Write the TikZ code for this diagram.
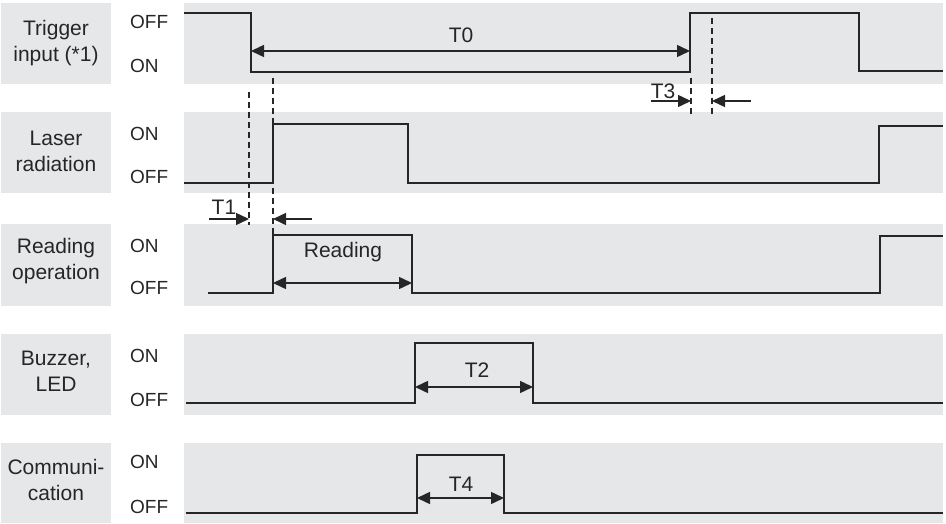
\documentclass[tikz,border=0pt]{standalone}
\usepackage{fontspec}
\setmainfont{Liberation Sans}
\usetikzlibrary{arrows.meta}
\definecolor{bandgray}{HTML}{E6E7E8}
\definecolor{inkgray}{HTML}{262626}
\begin{document}
\begin{tikzpicture}[x=1pt,y=-1pt,
  band/.style={fill=bandgray,draw=none},
  sig/.style={line width=1.8pt,draw=inkgray,line join=miter},
  rowlbl/.style={font=\fontsize{21}{26}\selectfont,align=center,text=inkgray,inner sep=0pt},
  lvl/.style={font=\fontsize{19}{20}\selectfont,anchor=west,inner sep=0pt,text=inkgray},
  tm/.style={font=\fontsize{21}{22}\selectfont,inner sep=0pt,text=inkgray},
  dimline/.style={line width=1.5pt,draw=inkgray},
  tipboth/.style={dimline,{Triangle[length=13pt,width=12pt]}-{Triangle[length=13pt,width=12pt]}},
  tipend/.style={dimline,-{Triangle[length=13pt,width=12pt]}},
  guide/.style={line width=1.4pt,dash pattern=on 6pt off 4pt,draw=inkgray}]
\useasboundingbox (0,0) rectangle (946,524);
% label boxes
\fill[band] (1,3) rectangle (111,84);
\fill[band] (1,112) rectangle (111,193);
\fill[band] (1,224) rectangle (111,306);
\fill[band] (1,334) rectangle (111,415);
\fill[band] (1,443) rectangle (111,523);
% signal bands
\fill[band] (184,3) rectangle (943,84);
\fill[band] (184,112) rectangle (943,193);
\fill[band] (184,224) rectangle (943,306);
\fill[band] (184,334) rectangle (943,415);
\fill[band] (184,443) rectangle (943,523);
% row labels
\node[rowlbl] (lTrig) at (56,43) {Trigger\\input (*1)};
\node[rowlbl] (lLaser) at (56,151) {Laser\\radiation};
\node[rowlbl] (lRead) at (56,261) {Reading\\operation};
\node[rowlbl] (lBuzz) at (56,371) {Buzzer,\\LED};
\node[rowlbl] (lComm) at (56,480) {Communi-\\cation};
% level labels
\node[lvl] (tOff) at (130,22) {OFF};
\node[lvl] (tOn) at (130,66) {ON};
\node[lvl] (laOn) at (130,134) {ON};
\node[lvl] (laOff) at (130,177) {OFF};
\node[lvl] (rOn) at (130,246) {ON};
\node[lvl] (rOff) at (130,288) {OFF};
\node[lvl] (bOn) at (130,356) {ON};
\node[lvl] (bOff) at (130,400) {OFF};
\node[lvl] (cOn) at (130,462) {ON};
\node[lvl] (cOff) at (130,507) {OFF};
% signals
\draw[sig] (184,13) -- (251,13) -- (251,72) -- (690,72) -- (690,13) -- (859,13) -- (859,71) -- (943,71);
\draw[sig] (184,183) -- (273,183) -- (273,124) -- (408,124) -- (408,183) -- (879,183) -- (879,126) -- (943,126);
\draw[sig] (208,293) -- (273,293) -- (273,235) -- (412,235) -- (412,293) -- (880,293) -- (880,236) -- (943,236);
\draw[sig] (186,403) -- (415,403) -- (415,343) -- (533,343) -- (533,403) -- (943,403);
\draw[sig] (186,513) -- (417,513) -- (417,455) -- (504,455) -- (504,513) -- (943,513);
% guide lines
\coordinate (g1a) at (249,92); \coordinate (g1b) at (249,225);
\coordinate (g2a) at (273,78); \coordinate (g2b) at (273,235);
\coordinate (g3a) at (691,78); \coordinate (g3b) at (691,117);
\coordinate (g4a) at (712,18); \coordinate (g4b) at (712,117);
\draw[guide] (g1a) -- (g1b);
\draw[guide] (g2a) -- (g2b);
\draw[guide] (g3a) -- (g3b);
\draw[guide] (g4a) -- (g4b);
% T0
\coordinate (t0a) at (251,51); \coordinate (t0b) at (690,51);
\draw[tipboth] (t0a) -- (t0b);
\node[tm] (lT0) at (461,35) {T0};
% T3
\coordinate (t3l) at (651,101); \coordinate (t3la) at (691,101);
\coordinate (t3r) at (751,101); \coordinate (t3ra) at (712,101);
\draw[tipend] (t3l) -- (t3la);
\draw[tipend] (t3r) -- (t3ra);
\node[tm] (lT3) at (663,91) {T3};
% T1
\coordinate (t1l) at (209,219); \coordinate (t1la) at (249,219);
\coordinate (t1r) at (312,219); \coordinate (t1ra) at (273,219);
\draw[tipend] (t1l) -- (t1la);
\draw[tipend] (t1r) -- (t1ra);
\node[tm] (lT1) at (224,207) {T1};
% Reading
\coordinate (rda) at (273,283); \coordinate (rdb) at (412,283);
\draw[tipboth] (rda) -- (rdb);
\node[tm] (lRd) at (343,252) {Reading};
% T2
\coordinate (t2a) at (415,387); \coordinate (t2b) at (533,387);
\draw[tipboth] (t2a) -- (t2b);
\node[tm] (lT2) at (477,370) {T2};
% T4
\coordinate (t4a) at (417,498); \coordinate (t4b) at (504,498);
\draw[tipboth] (t4a) -- (t4b);
\node[tm] (lT4) at (461,484) {T4};
\end{tikzpicture}
\end{document}
